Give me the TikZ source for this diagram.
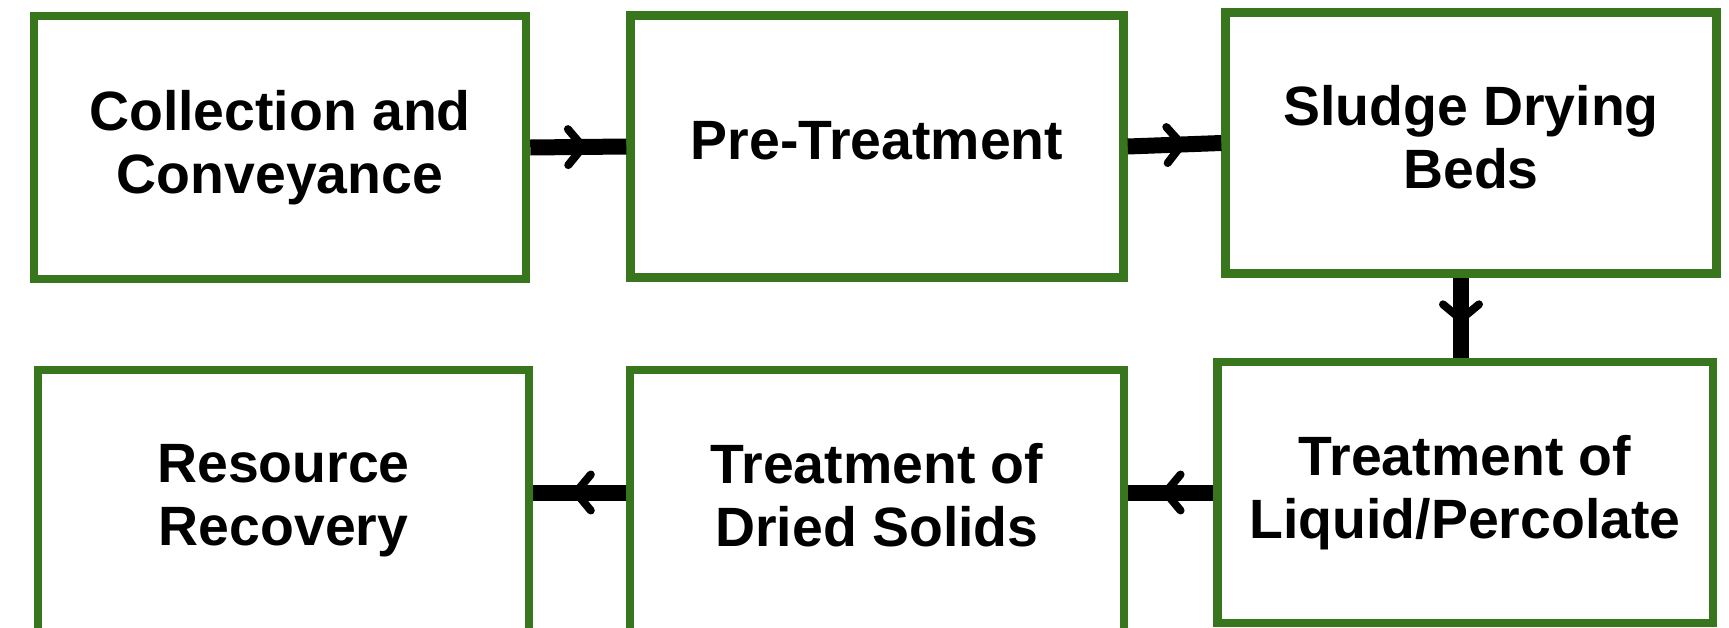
\documentclass[tikz,border=0pt]{standalone}
\usepackage{fontspec}
\setmainfont{Liberation Sans}
\usetikzlibrary{decorations.markings,calc}
\definecolor{boxgreen}{RGB}{56,118,29}
\begin{document}
\begin{tikzpicture}[x=0.5pt,y=-0.5pt,
  stepbox/.style={draw=boxgreen, line width=4.25pt, fill=white, align=center,
    font=\fontsize{27.7}{31.5}\selectfont\bfseries, inner sep=0pt},
  flow/.style={line width=8pt, draw=black, postaction={decorate},
    decoration={markings, mark=at position #1 with {\draw[line width=4pt,line cap=round,line join=round] (-7.5pt,-9pt) -- (0pt,0pt) -- (-7.5pt,9pt);}}},
  flow/.default=0.56]
\useasboundingbox (0,0) rectangle (1729,627);
\clip (0,0) rectangle (1729,627);
\node[stepbox, minimum width=246pt, minimum height=131.5pt] (b1) at (280,147.5) {Collection and\\Conveyance};
\node[stepbox, minimum width=246.5pt, minimum height=131pt] (b2) at (877,146.5) {Pre-Treatment\vphantom{y}};
\node[stepbox, minimum width=245.5pt, minimum height=130.5pt] (b3) at (1471,143) {Sludge Drying\\Beds\vphantom{y}};
\node[stepbox, minimum width=247.75pt, minimum height=130.5pt] (b6) at (1465,492.5) {Treatment of\\Liquid/Percolate};
\node[stepbox, minimum width=247pt, minimum height=131pt] (b5) at (877,501) {Treatment of\\Dried Solids\vphantom{y}};
\node[stepbox, minimum width=245.5pt, minimum height=131pt] (b4) at (283.5,501) {Resource\\Recovery};
\draw[flow=0.55] (b1.east) -- (b2.west);
\draw[flow=0.58] (b2.east) -- (b3.west);
\draw[flow=0.52] ([xshift=-5pt]b3.south) -- ([xshift=-5pt]b3.south |- b6.north);
\draw[flow=0.56] (b6.west) -- (b6.west -| b5.east);
\draw[flow=0.54] (b6.west -| b5.west) -- (b6.west -| b4.east);
\end{tikzpicture}
\end{document}
